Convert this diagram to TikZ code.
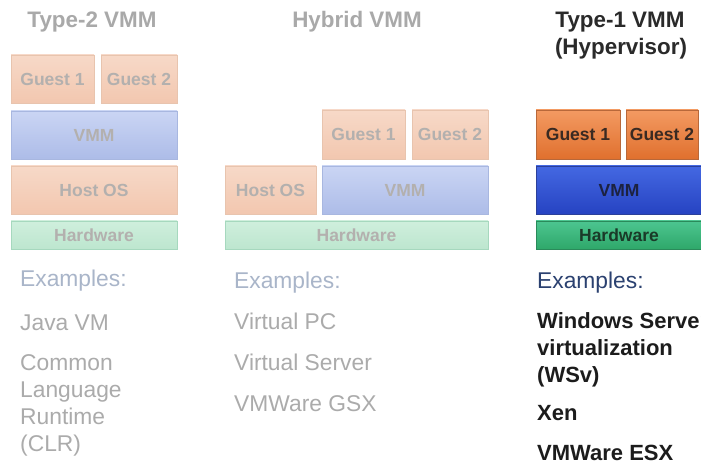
\documentclass[tikz,border=0pt]{standalone}
\usepackage{fontspec}
\setmainfont{Liberation Sans}
\definecolor{fpeachA}{HTML}{F7D9C8}
\definecolor{fpeachB}{HTML}{F2C7AF}
\definecolor{fpeachL}{HTML}{E8C4AE}
\definecolor{fblueA}{HTML}{CAD5F4}
\definecolor{fblueB}{HTML}{ADBCE8}
\definecolor{fblueL}{HTML}{A8B7E0}
\definecolor{fgreenA}{HTML}{CFEFDD}
\definecolor{fgreenB}{HTML}{BDE6CF}
\definecolor{fgreenL}{HTML}{A6D8BE}
\definecolor{ftext}{HTML}{B3B0AE}
\definecolor{orA}{HTML}{F39A62}
\definecolor{orB}{HTML}{E0702E}
\definecolor{orL}{HTML}{B8683A}
\definecolor{blA}{HTML}{4468E2}
\definecolor{blB}{HTML}{2643C2}
\definecolor{blL}{HTML}{2B409A}
\definecolor{grA}{HTML}{4CC590}
\definecolor{grB}{HTML}{2FA86A}
\definecolor{grL}{HTML}{2A8A5A}
\definecolor{titlegray}{HTML}{A9A9A9}
\definecolor{titledark}{HTML}{2A2A2A}
\definecolor{exfaded}{HTML}{A9B5C9}
\definecolor{itemfaded}{HTML}{ABABAB}
\definecolor{exdark}{HTML}{2B4170}
\definecolor{itemdark}{HTML}{1C1C1C}
\definecolor{ortext}{HTML}{3A2A22}
\definecolor{bltext}{HTML}{1C2240}
\definecolor{grtext}{HTML}{1A3A28}
\begin{document}
\begin{tikzpicture}[x=1pt,y=-1pt,
  layer/.style={inner sep=0pt, outer sep=0pt, line width=0.9pt, font=\fontsize{17.5}{20}\selectfont\bfseries},
  fpeach/.style={layer, draw=fpeachL, top color=fpeachA, bottom color=fpeachB, text=ftext},
  fblue/.style={layer, draw=fblueL, top color=fblueA, bottom color=fblueB, text=ftext},
  fgreen/.style={layer, draw=fgreenL, top color=fgreenA, bottom color=fgreenB, text=ftext},
  dorange/.style={layer, draw=orL, top color=orA, bottom color=orB, text=ortext},
  dblue/.style={layer, draw=blL, top color=blA, bottom color=blB, text=bltext},
  dgreen/.style={layer, draw=grL, top color=grA, bottom color=grB, text=grtext},
  ttl/.style={anchor=base, inner sep=0pt, font=\fontsize{22.4}{27}\selectfont\bfseries},
  exhead/.style={anchor=base west, inner sep=0pt, font=\fontsize{22.8}{27}\selectfont},
  exitem/.style={anchor=base west, inner sep=0pt, font=\fontsize{22.8}{27}\selectfont},
  exbold/.style={anchor=base west, inner sep=0pt, text=itemdark, font=\fontsize{22}{27}\selectfont\bfseries},
]
\clip (0,0) rectangle (701,470);
\fill[white] (0,0) rectangle (701,470);

% ---------- Type-2 VMM ----------
\node[ttl, text=titlegray] (t2title) at (92,28) {Type-2 VMM};
\node[fpeach, minimum width=83pt, minimum height=48pt] (t2g1) at (52.5,79) {Guest 1};
\node[fpeach, minimum width=76pt, minimum height=48pt] (t2g2) at (139,79) {Guest 2};
\node[fblue, minimum width=166pt, minimum height=48pt] (t2vmm) at (94,135) {VMM};
\node[fpeach, minimum width=166pt, minimum height=48pt] (t2host) at (94,190) {Host OS};
\node[fgreen, minimum width=166pt, minimum height=28pt] (t2hw) at (94,235) {Hardware};

\node[exhead, text=exfaded] (t2ex) at (20,287) {Examples:};
\node[exitem, text=itemfaded] (t2i1) at (20,330) {Java VM};
\node[exitem, text=itemfaded] (t2i2a) at (20,370) {Common};
\node[exitem, text=itemfaded] (t2i2b) at (20,397) {Language};
\node[exitem, text=itemfaded] (t2i2c) at (20,424) {Runtime};
\node[exitem, text=itemfaded] (t2i2d) at (20,451) {(CLR)};

% ---------- Hybrid VMM ----------
\node[ttl, text=titlegray] (hytitle) at (357,28) {Hybrid VMM};
\node[fpeach, minimum width=83pt, minimum height=49pt] (hyg1) at (363.5,134.5) {Guest 1};
\node[fpeach, minimum width=76pt, minimum height=49pt] (hyg2) at (450,134.5) {Guest 2};
\node[fpeach, minimum width=91pt, minimum height=48pt] (hyhost) at (270.5,190) {Host OS};
\node[fblue, minimum width=166pt, minimum height=48pt] (hyvmm) at (405,190) {VMM};
\node[fgreen, minimum width=263pt, minimum height=28pt] (hyhw) at (356.5,235) {Hardware};

\node[exhead, text=exfaded] (hyex) at (234,288) {Examples:};
\node[exitem, text=itemfaded] (hyi1) at (234,329) {Virtual PC};
\node[exitem, text=itemfaded] (hyi2) at (234,370) {Virtual Server};
\node[exitem, text=itemfaded] (hyi3) at (234,411) {VMWare GSX};

% ---------- Type-1 VMM ----------
\node[ttl, text=titledark] (t1title) at (620,28) {Type-1 VMM};
\node[ttl, text=titledark] (t1title2) at (621,55) {(Hypervisor)};
\node[dorange, minimum width=84pt, minimum height=49pt] (t1g1) at (578,134.5) {Guest 1};
\node[dorange, minimum width=72pt, minimum height=49pt] (t1g2) at (662,134.5) {Guest 2};
\node[dblue, minimum width=166pt, minimum height=48pt] (t1vmm) at (619,190) {VMM};
\node[dgreen, minimum width=166pt, minimum height=28pt] (t1hw) at (619,235) {Hardware};

\node[exhead, text=exdark] (t1ex) at (537,288) {Examples:};
\node[exbold] (t1i1a) at (537,328) {Windows Server};
\node[exbold] (t1i1b) at (537,355) {virtualization};
\node[exbold] (t1i1c) at (537,382) {(WSv)};
\node[exbold] (t1i2) at (537,420) {Xen};
\node[exbold] (t1i3) at (537,460) {VMWare ESX};
\end{tikzpicture}
\end{document}
